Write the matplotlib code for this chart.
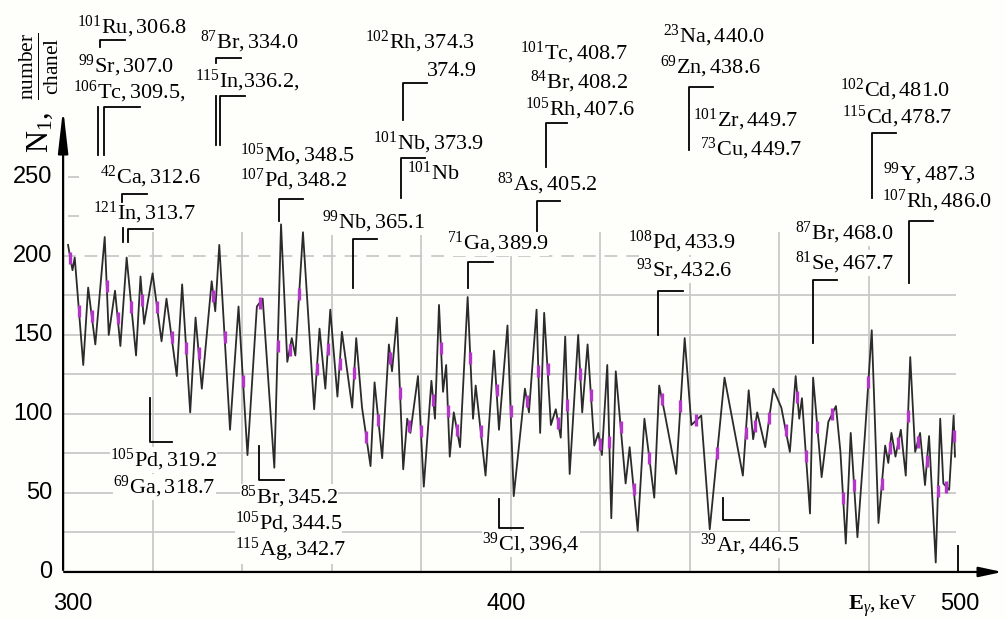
import numpy as np
import matplotlib.pyplot as plt

plt.rcParams['font.family'] = ['Liberation Serif', 'DejaVu Serif']
plt.rcParams['mathtext.fontset'] = 'custom'
plt.rcParams['mathtext.rm'] = 'Liberation Serif'
plt.rcParams['mathtext.it'] = 'Liberation Serif:italic'
plt.rcParams['mathtext.bf'] = 'Liberation Serif:bold'

# spectrum (peaks and valleys), keV / counts per channel
energy = [301.1, 302.1, 302.6, 304.5, 305.6, 307.2, 309.3, 310.2, 311.6, 312.8,
          314.2, 316.3, 317.3, 318.1, 320.0, 322.0, 323.1, 325.4, 326.6, 328.4,
          329.6, 331.0, 333.2, 334.0, 334.9, 337.3, 339.2, 341.2, 343.3, 344.6,
          347.2, 348.7, 350.1, 351.1, 351.9, 353.6, 356.1, 357.3, 358.6, 359.7,
          361.3, 362.3, 364.6, 365.5, 366.8,
          368.7, 369.6, 371.3, 372.8, 373.5, 374.6, 376.0, 376.9, 377.6, 379.3,
          380.6, 382.3, 383.1, 384.0, 384.9, 385.6, 386.4, 387.3, 388.7, 390.4,
          391.6, 392.2, 394.4, 396.3, 397.4, 399.3, 400.7, 403.2, 404.1, 405.8,
          406.6, 407.5, 409.0, 410.1, 411.2, 412.2, 413.2, 415.1, 416.0, 417.2,
          418.7, 419.6, 420.4, 421.6, 422.5, 423.5, 425.7, 426.6, 428.4, 429.9,
          432.1, 433.2,
          434.4, 437.0, 438.9, 440.4, 442.6, 444.5, 447.8, 451.9, 453.2, 454.2,
          455.1, 456.9, 458.7, 460.5, 462.4, 463.7, 464.5, 465.1, 466.9, 467.6,
          469.5, 471.0, 472.7, 473.7, 474.9, 476.0, 477.5, 479.2, 480.7, 482.2,
          483.7, 484.4, 485.1, 486.0, 487.2, 488.3, 489.3, 490.4, 491.5, 492.6,
          493.5, 495.0, 496.0, 496.7, 498.0, 499.0, 499.3]
counts = [207, 191, 199, 131, 180, 144, 212, 150, 178, 143,
          199, 137, 187, 157, 189, 146, 173, 124, 182, 101,
          161, 116, 184, 165, 207, 90, 168, 74, 168, 173,
          66, 220, 133, 148, 137, 215, 103, 154, 116, 166,
          111, 152, 104, 148, 104,
          67, 120, 72, 144, 127, 161, 65, 97, 88, 124,
          54, 121, 97, 169, 114, 131, 73, 101, 79, 174,
          97, 118, 61, 140, 90, 156, 48, 116, 101, 166,
          88, 164, 93, 103, 85, 149, 62, 150, 101, 144,
          80, 88, 74, 131, 34, 127, 56, 79, 26, 97,
          47, 118,
          101, 62, 148, 93, 99, 27, 123, 61, 115, 84,
          101, 79, 116, 104, 76, 124, 97, 110, 37, 123,
          60, 95, 105, 76, 18, 88, 22, 88, 153, 31,
          80, 69, 88, 73, 90, 61, 136, 76, 88, 55,
          86, 6, 97, 56, 52, 99, 73]

yticks = [0, 50, 100, 150, 200, 250]
xticks = [300, 400, 500]
xgrid = [320, 340, 360, 380, 400, 420, 440, 460, 480]
ygrid = [25, 50, 75, 100, 125, 150, 175]

# isotope labels and where they sit (keV, counts)
labels = [r'$^{101}\mathrm{Ru, 306.8}$', r'$^{99}\mathrm{Sr, 307.0}$', r'$^{106}\mathrm{Tc, 309.5,}$',
          r'$^{87}\mathrm{Br, 334.0}$', r'$^{115}\mathrm{In{,}336.2,}$', r'$^{105}\mathrm{Mo, 348.5}$',
          r'$^{107}\mathrm{Pd, 348.2}$', r'$^{42}\mathrm{Ca, 312.6}$', r'$^{121}\mathrm{In, 313.7}$',
          r'$^{102}\mathrm{Rh, 374.3}$', '374.9', r'$^{101}\mathrm{Nb, 373.9}$', r'$^{101}\mathrm{Nb}$',
          r'$^{101}\mathrm{Tc, 408.7}$', r'$^{84}\mathrm{Br, 408.2}$', r'$^{105}\mathrm{Rh, 407.6}$',
          r'$^{83}\mathrm{As, 405.2}$', r'$^{99}\mathrm{Nb, 365.1}$', r'$^{71}\mathrm{Ga, 389.9}$',
          r'$^{108}\mathrm{Pd, 433.9}$', r'$^{93}\mathrm{Sr, 432.6}$', r'$^{87}\mathrm{Br, 468.0}$',
          r'$^{81}\mathrm{Se, 467.7}$', r'$^{23}\mathrm{Na, 440.0}$', r'$^{69}\mathrm{Zn, 438.6}$',
          r'$^{101}\mathrm{Zr, 449.7}$', r'$^{73}\mathrm{Cu, 449.7}$', r'$^{102}\mathrm{Cd, 481.0}$',
          r'$^{115}\mathrm{Cd, 478.7}$', r'$^{99}\mathrm{Y, 487.3}$', r'$^{107}\mathrm{Rh, 486.0}$',
          r'$^{105}\mathrm{Pd, 319.2}$', r'$^{69}\mathrm{Ga, 318.7}$', r'$^{85}\mathrm{Br, 345.2}$',
          r'$^{105}\mathrm{Pd, 344.5}$', r'$^{115}\mathrm{Ag, 342.7}$', r'$^{39}\mathrm{Cl, 396{,}4}$',
          r'$^{39}\mathrm{Ar, 446.5}$']
label_pos = [(303.1, 345), (303.4, 320), (302.2, 304),
             (330.6, 335.5), (329.5, 311), (339.6, 264),
             (339.6, 248), (308.3, 250), (306.7, 227),
             (367.5, 335.5), (381.3, 317), (369.3, 271.5), (376.9, 252.5),
             (402.1, 328.5), (404.4, 310), (403.2, 293),
             (397.0, 245.5), (357.9, 221.5), (385.8, 208),
             (426.3, 209), (428.0, 191), (463.6, 214.5),
             (463.6, 195.5), (434.1, 339), (433.4, 319.5),
             (440.8, 286), (442.3, 268), (473.6, 305),
             (474.1, 288), (483.2, 252), (483.0, 235),
             (310.5, 71), (311.2, 54), (339.6, 47.5),
             (338.4, 31), (338.4, 14), (393.6, 17.7),
             (442.3, 17)]

brackets = [
    [(308.3, 332), (308.3, 337), (313.9, 337)],
    [(307.8, 264), (307.8, 294)],
    [(309.2, 264), (309.2, 294), (317.2, 294)],
    [(334.2, 322), (334.2, 325), (339.8, 325)],
    [(334.2, 270), (334.2, 301)],
    [(335.1, 270), (335.1, 301), (340.7, 301)],
    [(313.2, 234), (313.2, 239), (318.8, 239)],
    [(313.4, 209), (313.4, 218)],
    [(314.5, 209), (314.5, 217), (320.1, 217)],
    [(348.3, 222), (348.3, 236), (353.6, 236)],
    [(376.0, 286), (376.0, 309.5), (381.3, 309.5)],
    [(375.5, 237), (375.5, 262), (380.9, 262)],
    [(407.9, 256), (407.9, 284), (412.6, 284)],
    [(405.9, 216), (405.9, 235), (411.1, 235)],
    [(364.8, 180), (364.8, 211), (370.2, 211)],
    [(390.5, 180), (390.5, 196), (396.1, 196)],
    [(433.0, 150), (433.0, 178), (438.5, 178)],
    [(439.9, 267), (439.9, 307), (445.3, 307)],
    [(480.8, 237), (480.8, 278), (486.1, 278)],
    [(467.6, 145), (467.6, 185), (473.0, 185)],
    [(489.1, 183), (489.1, 222), (494.4, 222)],
    [(319.4, 110), (319.4, 82), (324.4, 82)],
    [(343.8, 80), (343.8, 58), (349.4, 58)],
    [(397.4, 46), (397.4, 28), (402.8, 28)],
    [(447.5, 47), (447.5, 33), (453.3, 33)],
]

bg = '#fefefa'
fig = plt.figure(figsize=(10.06, 6.2), dpi=100, facecolor=bg)
ax = fig.add_axes([0, 0, 1, 1])
ax.set_xlim(285.9, 510.7)
ax.set_ylim(-30.4, 362)
ax.axis('off')

# grid
ax.vlines(xgrid, 0, 215, color='#c9c9c9', lw=1.3, zorder=1)
ax.hlines(ygrid, 300, 499.5, color='#c9c9c9', lw=1.3, zorder=1)
ax.hlines(200, 300, 430, color='#c9c9c9', lw=1.3, linestyles=(0, (7, 5)), zorder=1)
ax.hlines([225, 250], 301.2, 303.5, color='#c9c9c9', lw=1.3, zorder=1)

# spectrum
ax.plot(energy, counts, color='#2b2b2b', lw=1.3, zorder=3)
e = np.array(energy)
c = np.array(counts)
mid_e = (e[:-1] + e[1:]) / 2
mid_c = (c[:-1] + c[1:]) / 2
ax.plot(mid_e[::2], mid_c[::2], ls='none', marker='|', ms=8, mew=2.4,
        color='#b436c8', zorder=4)
ax.vlines(500, 0, 17, color='black', lw=1.3)

# axes with arrows
ax.annotate('', xy=(510.5, 0), xytext=(299.6, 0),
            arrowprops=dict(arrowstyle='-|>,head_width=0.3,head_length=1.4',
                            color='black', lw=1.6))
ax.annotate('', xy=(300, 295), xytext=(300, -0.5),
            arrowprops=dict(arrowstyle='-|>,head_width=0.3,head_length=2.6',
                            color='black', lw=1.6))

for t in yticks:
    ax.text(297.6, t, str(t), ha='right', va='center', fontsize=17,
            family='Liberation Sans')
for t, x in zip(xticks, [302.2, 399.0, 500.4]):
    ax.text(x, -20.5, str(t), ha='center', va='center', fontsize=17,
            family='Liberation Sans')

ax.text(475.4, -22, r'$\mathbf{E}_{\gamma}\mathrm{, keV}$', ha='left', va='center', fontsize=16)
ax.text(294.6, 303, r'$\mathrm{N}_1,\ \frac{\mathrm{number}}{\mathrm{chanel}}$',
        rotation=90, ha='center', va='center', fontsize=22)

for txt, (x, y) in zip(labels, label_pos):
    ax.text(x, y, txt, ha='left', va='center', fontsize=16, zorder=6,
            bbox=dict(facecolor=bg, edgecolor='none', pad=0))

for pts in brackets:
    xs, ys = zip(*pts)
    ax.plot(xs, ys, color='black', lw=1.3, zorder=7)

plt.savefig('out.png', dpi=100, facecolor=bg)
